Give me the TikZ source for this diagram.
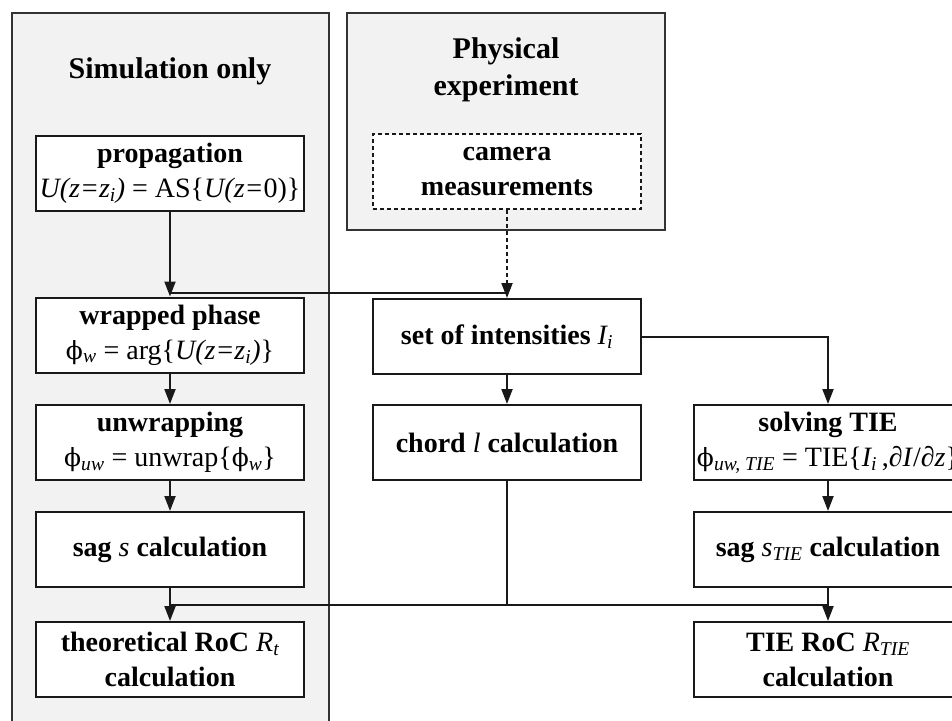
\documentclass[tikz,border=0pt]{standalone}
\usepackage{fontspec}
\setmainfont{Liberation Serif}
\newfontfamily\phifont{DejaVu Serif}
\newcommand{\myphi}{{\phifont\fontsize{25}{30}\selectfont ϕ}}
\newcommand{\mi}[1]{{\mdseries\itshape #1}}
\usetikzlibrary{arrows.meta,calc}
\begin{document}
\begin{tikzpicture}[x=1pt,y=-1pt,
  panel/.style={draw=black!80,line width=1.5pt,fill=black!5},
  box/.style={draw=black!90,line width=2pt,fill=white,minimum width=268pt,minimum height=75pt,
    align=center,inner sep=0pt,font=\fontsize{28}{35}\selectfont},
  dotbox/.style={box,dash pattern=on 4pt off 3pt},
  title/.style={align=center,font=\fontsize{30}{37}\selectfont\bfseries},
  conn/.style={draw=black!90,line width=2pt},
  arr/.style={conn,-{Triangle[length=15pt,width=11pt]}}]
\useasboundingbox (0,0) rectangle (952,720);
\clip (0,0) rectangle (952,720);
\fill[white] (0,0) rectangle (952,720);
% panels
\draw[panel] (12,13) rectangle (329,740);
\draw[panel] (347,13) rectangle (665,230);
\node[title] (tsim) at (170,71) {Simulation only};
\node[title] (tphys) at (506,70) {Physical\\experiment};
% left column
\node[box] (prop) at (170,173) {\textbf{propagation}\\{\itshape U(z=z\textsubscript{i})} = AS\{{\itshape U(z=}0)\}};
\node[box] (wrap) at (170,335) {\textbf{wrapped phase}\\\myphi\textsubscript{\itshape w} = arg\{{\itshape U(z=z\textsubscript{i})}\}};
\node[box] (unwrap) at (170,442.5) {\textbf{unwrapping}\\\myphi\textsubscript{\itshape uw} = unwrap\{\myphi\textsubscript{\itshape w}\}};
\node[box] (sag) at (170,549.5) {\textbf{sag \mi{s} calculation}};
\node[box] (theo) at (170,659.5) {\textbf{theoretical RoC \mi{R\textsubscript{t}}}\\\textbf{calculation}};
% middle column
\node[dotbox] (cam) at (507,171.5) {\textbf{camera}\\\textbf{measurements}};
\node[box] (sets) at (507,336.5) {\textbf{set of intensities \mi{I\textsubscript{i}}}};
\node[box] (chord) at (507,442.5) {\textbf{chord \mi{l} calculation}};
% right column
\node[box] (tie) at (828,442.5) {\textbf{solving TIE}\\\myphi\textsubscript{\itshape uw, TIE} = TIE\{\textit{I\textsubscript{i}}\,,∂\textit{I}/∂\textit{z}\}};
\node[box] (sagtie) at (828,549.5) {\textbf{sag \mi{s\textsubscript{TIE}} calculation}};
\node[box] (tieroc) at (828,659.5) {\textbf{TIE RoC \mi{R\textsubscript{TIE}}}\\\textbf{calculation}};
% junctions
\coordinate (j1) at ($(prop.south)+(0,81)$);
\coordinate (j2) at (cam.south |- j1);
\coordinate (jb1) at ($(sag.south)+(0,17)$);
\coordinate (jb2) at (tieroc.north |- jb1);
\coordinate (jc) at (chord.south |- jb1);
% connectors
\draw[arr] (prop.south) -- (wrap.north);
\draw[conn] (j1) -- (j2);
\draw[conn,line width=1.5pt,dash pattern=on 4pt off 3pt] (cam.south) -- (j2);
\draw[arr] (j2) -- (sets.north);
\draw[arr] (wrap.south) -- (unwrap.north);
\draw[arr] (unwrap.south) -- (sag.north);
\draw[arr] (sag.south) -- (theo.north);
\draw[arr] (sets.south) -- (chord.north);
\draw[arr] (sets.east) -| (tie.north);
\draw[arr] (tie.south) -- (sagtie.north);
\draw[arr] (sagtie.south) -- (tieroc.north);
\draw[conn] (chord.south) -- (jc);
\draw[conn] (jb1) -- (jb2);
\end{tikzpicture}
\end{document}
